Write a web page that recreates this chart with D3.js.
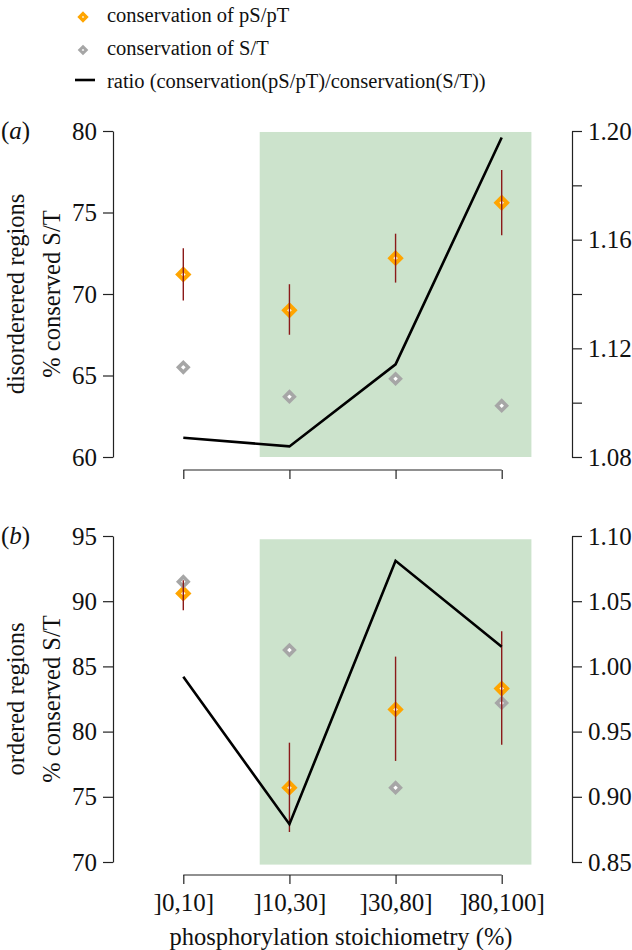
<!DOCTYPE html>
<html><head><meta charset="utf-8">
<script src="https://cdn.jsdelivr.net/npm/d3@7"></script>
<style>body{margin:0;background:#fff}svg{display:block}text{font-family:"Liberation Serif","Times New Roman",serif;fill:#111}</style>
</head><body>
<script>
const categories = ["]0,10]", "]10,30]", "]30,80]", "]80,100]"];
// panel a: disordered regions
const aPS = [71.2, 69.0, 72.2, 75.6];
const aPSlo = [69.6, 67.5, 70.7, 73.6];
const aPShi = [72.8, 70.6, 73.7, 77.6];
const aST = [65.5, 63.7, 64.8, 63.15];
const aRatio = [1.0871, 1.0839, 1.1141, 1.1976];
// panel b: ordered regions
const bPS = [90.6, 75.7, 81.7, 83.3];
const bPSlo = [89.3, 72.3, 77.75, 79.0];
const bPShi = [91.6, 79.15, 85.75, 87.7];
const bST = [91.5, 86.25, 75.7, 82.2];
const bRatio = [0.992, 0.879, 1.081, 1.015];
// ticks
const aLeftTicks = [60, 65, 70, 75, 80];
const aRightTicks = [1.08, 1.10, 1.12, 1.14, 1.16, 1.18, 1.20];
const aRightLabels = [1.08, 1.12, 1.16, 1.20];
const bLeftTicks = [70, 75, 80, 85, 90, 95];
const bRightTicks = [0.85, 0.90, 0.95, 1.00, 1.05, 1.10];
// shaded region in category-index units
const shadeIdx = [0.72, 3.28];
const legendItems = ["conservation of pS/pT", "conservation of S/T", "ratio (conservation(pS/pT)/conservation(S/T))"];

const W = 632, H = 950;
const svg = d3.select("body").append("svg").attr("width", W).attr("height", H);

const x = d3.scalePoint().domain(categories).range([183.3, 501.7]);
const xi = d3.scaleLinear().domain([0, 3]).range([183.3, 501.7]);
const leftX = 113, rightX = 572;
const ORANGE = "#FFA500", GREY = "#A6A6A6", GREEN = "#CCE3CC", ERR = "#8B1A1A";

function diamond(g, cx, cy, r, color, sw) {
  g.append("path")
    .attr("d", `M${cx},${cy - r}L${cx + r},${cy}L${cx},${cy + r}L${cx - r},${cy}Z`)
    .attr("fill", "#fff").attr("stroke", color).attr("stroke-width", sw)
    .attr("stroke-linejoin", "miter");
}

function panel(opts) {
  const g = svg.append("g");
  const y = d3.scaleLinear().domain(opts.lDom).range([opts.yBot, opts.yTop]);
  const yr = d3.scaleLinear().domain(opts.rDom).range([opts.yBot, opts.yTop]);
  // shade
  g.append("rect")
    .attr("x", xi(shadeIdx[0])).attr("width", xi(shadeIdx[1]) - xi(shadeIdx[0]))
    .attr("y", y(opts.shadeTop)).attr("height", y(opts.shadeBot) - y(opts.shadeTop))
    .attr("fill", GREEN);
  // left axis
  const la = g.append("g").attr("transform", `translate(${leftX},0)`)
    .call(d3.axisLeft(y).tickValues(opts.lTicks).tickSize(10).tickSizeOuter(0).tickPadding(6).tickFormat(d3.format("d")));
  // right axis
  const ra = g.append("g").attr("transform", `translate(${rightX},0)`)
    .call(d3.axisRight(yr).tickValues(opts.rTicks).tickSize(10).tickSizeOuter(0).tickPadding(6)
      .tickFormat(d => opts.rLabels.some(v => Math.abs(v - d) < 1e-9) ? d3.format(".2f")(d) : ""));
  // bottom axis
  const ba = g.append("g").attr("transform", `translate(0,${opts.xAxisY})`)
    .call(d3.axisBottom(x).tickSize(9).tickSizeOuter(0).tickPadding(9).tickFormat(opts.xLabels ? (d => d) : (() => "")));
  [la, ra, ba].forEach(a => {
    a.attr("font-family", null);
    a.selectAll("path,line").attr("stroke", "#222").attr("stroke-width", 1.2);
    a.selectAll("text").style("font-size", "25px").attr("fill", "#111");
  });
  ba.select(".domain").attr("d", `M${x(categories[0])},0H${x(categories[3])}`);
  // points
  opts.ps.forEach((v, i) => diamond(g, x(categories[i]), y(v), 5.2, ORANGE, 4.2));
  opts.st.forEach((v, i) => diamond(g, x(categories[i]), y(v), 4.8, GREY, 3.6));
  // error bars
  opts.lo.forEach((v, i) => {
    g.append("line").attr("x1", x(categories[i])).attr("x2", x(categories[i]))
      .attr("y1", y(v)).attr("y2", y(opts.hi[i])).attr("stroke", ERR).attr("stroke-width", 1.4);
  });
  // ratio line
  g.append("path")
    .datum(opts.ratio)
    .attr("d", d3.line().x((d, i) => x(categories[i])).y(d => yr(d)))
    .attr("fill", "none").attr("stroke", "#000").attr("stroke-width", 2.6).attr("stroke-linejoin", "miter");
  // titles
  const cy = (opts.yTop + opts.yBot) / 2;
  g.append("text").attr("transform", `translate(24,${cy}) rotate(-90)`).attr("text-anchor", "middle")
    .style("font-size", "24.5px").text(opts.title1);
  g.append("text").attr("transform", `translate(60,${cy}) rotate(-90)`).attr("text-anchor", "middle")
    .style("font-size", "24.5px").text("% conserved S/T");
  const lab = g.append("text").attr("x", 1).attr("y", opts.yTop + 8).style("font-size", "25px");
  lab.append("tspan").text("(");
  lab.append("tspan").style("font-style", "italic").text(opts.tag);
  lab.append("tspan").text(")");
}

panel({ lDom: [60, 80], rDom: [1.08, 1.20], yTop: 131, yBot: 457, lTicks: aLeftTicks, rTicks: aRightTicks, rLabels: aRightLabels,
  xAxisY: 470, xLabels: false, ps: aPS, lo: aPSlo, hi: aPShi, st: aST, ratio: aRatio,
  shadeTop: 79.94, shadeBot: 60, title1: "disorderered regions", tag: "a" });
panel({ lDom: [70, 95], rDom: [0.85, 1.10], yTop: 536, yBot: 862, lTicks: bLeftTicks, rTicks: bRightTicks, rLabels: bRightTicks,
  xAxisY: 875, xLabels: true, ps: bPS, lo: bPSlo, hi: bPShi, st: bST, ratio: bRatio,
  shadeTop: 94.75, shadeBot: 69.8, title1: "ordered regions", tag: "b" });

svg.append("text").attr("x", 341).attr("y", 945).attr("text-anchor", "middle").style("font-size", "24.5px")
  .text("phosphorylation stoichiometry (%)");

// legend
const leg = svg.append("g");
const legY = [17, 50, 83];
diamond(leg, 83, legY[0], 3.4, ORANGE, 3.2);
diamond(leg, 83, legY[1], 3.2, GREY, 3.0);
leg.append("line").attr("x1", 75).attr("x2", 95).attr("y1", legY[2] - 3).attr("y2", legY[2] - 3)
  .attr("stroke", "#000").attr("stroke-width", 2.6);
legendItems.forEach((t, i) => {
  leg.append("text").attr("x", 107).attr("y", legY[i] + 5).style("font-size", "20.5px").text(t);
});
</script>
</body></html>
